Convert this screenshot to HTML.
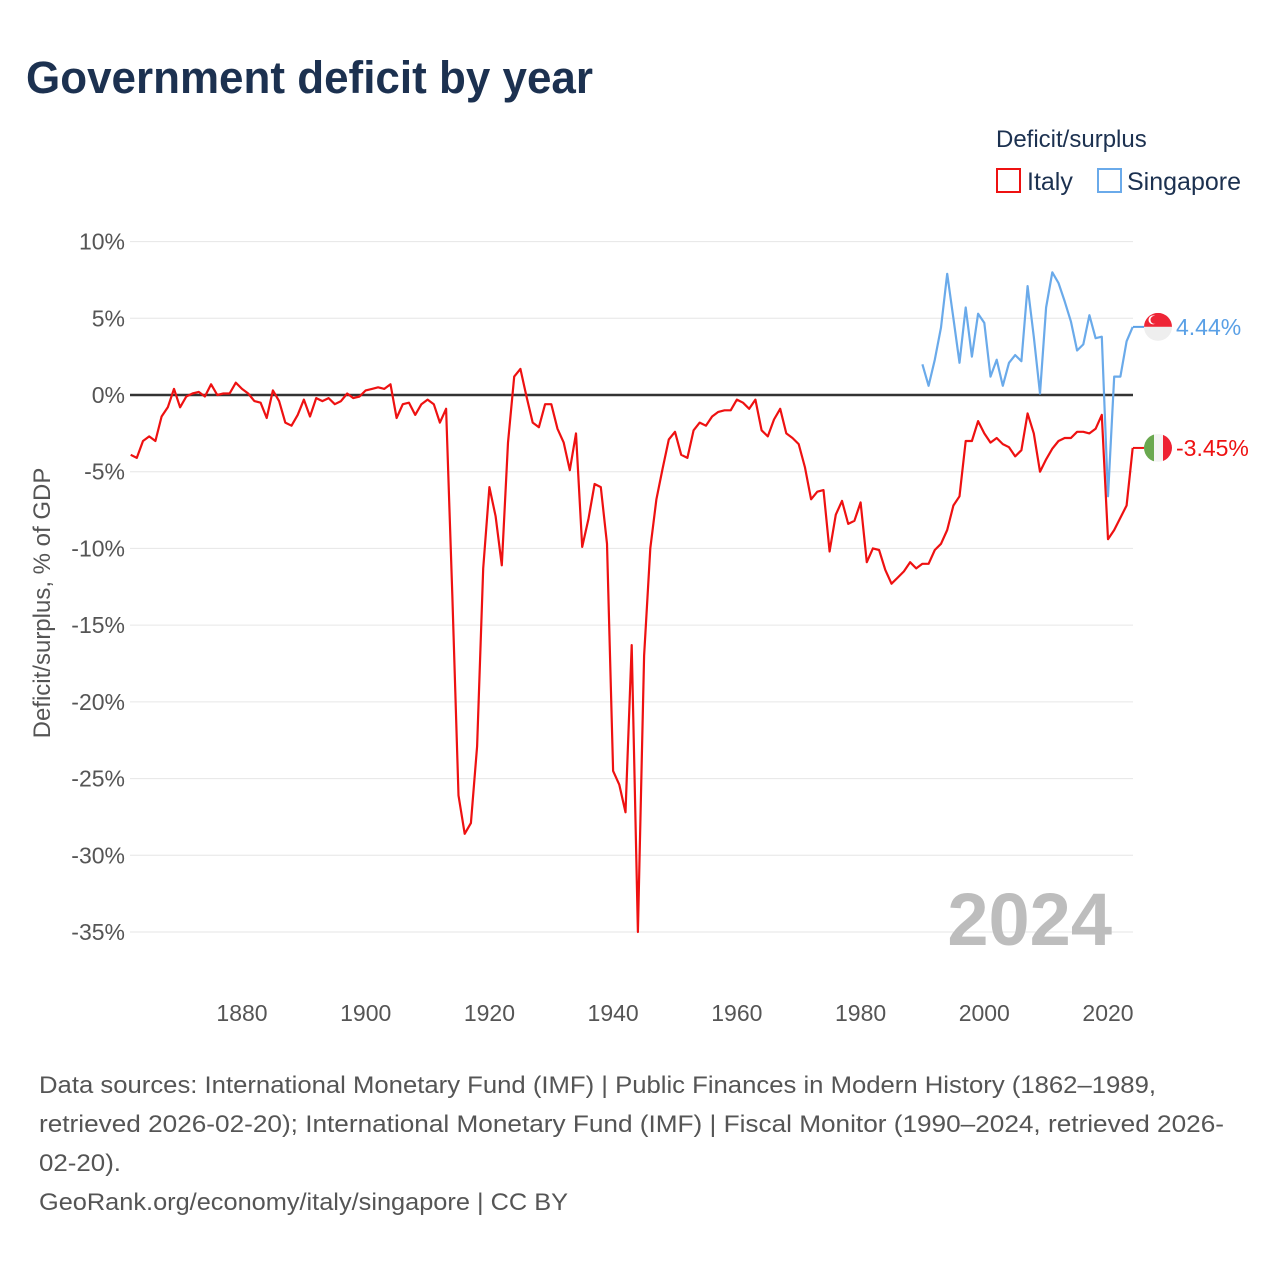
<!DOCTYPE html>
<html><head><meta charset="utf-8">
<style>
body{margin:0;background:#fff;font-family:"Liberation Sans",sans-serif;}
#wrap{position:relative;width:1280px;height:1280px;overflow:hidden;}
</style></head>
<body><div id="wrap">
<svg id="chart" width="1280" height="1280" xmlns="http://www.w3.org/2000/svg">
<text x="26" y="93" font-size="45" font-weight="bold" fill="#1c3150" textLength="567" lengthAdjust="spacingAndGlyphs" font-family="Liberation Sans, sans-serif">Government deficit by year</text>
<g>
<text x="996" y="147" font-size="24" fill="#1c3150">Deficit/surplus</text>
<g><rect x="997" y="169" width="23" height="23" fill="none" stroke="#ee1111" stroke-width="2"/><text x="1027" y="190" font-size="25" fill="#1c3150">Italy</text></g>
<g><rect x="1098" y="169" width="23" height="23" fill="none" stroke="#6aaaea" stroke-width="2"/><text x="1127" y="190" font-size="25" fill="#1c3150">Singapore</text></g>
</g>
<g id="grid"></g>
<g id="yticks"></g>
<g id="xticks"></g>
<text transform="translate(50,603) rotate(-90)" text-anchor="middle" font-size="24" fill="#555">Deficit/surplus, % of GDP</text>
<text x="1112" y="945" text-anchor="end" font-size="74" font-weight="bold" fill="#bdbdbd">2024</text>
<line id="zeroline" stroke="#333" stroke-width="2.5"/>
<g id="series"></g>
<g id="endlabels"></g>
<g font-size="24" fill="#555">
<text x="39" y="1093" textLength="1117" lengthAdjust="spacingAndGlyphs">Data sources: International Monetary Fund (IMF) | Public Finances in Modern History (1862–1989,</text>
<text x="39" y="1132" textLength="1185" lengthAdjust="spacingAndGlyphs">retrieved 2026-02-20); International Monetary Fund (IMF) | Fiscal Monitor (1990–2024, retrieved 2026-</text>
<text x="39" y="1171" textLength="82" lengthAdjust="spacingAndGlyphs">02-20).</text>
<text x="39" y="1210" textLength="529" lengthAdjust="spacingAndGlyphs">GeoRank.org/economy/italy/singapore | CC BY</text>
</g>
</svg>
</div>
<script>
const italyStart = 1862;
const italyValues = [-3.9,-4.1,-3.0,-2.7,-3.0,-1.4,-0.8,0.4,-0.8,-0.1,0.1,0.2,-0.1,0.7,0,0.1,0.1,0.8,0.4,0.1,-0.4,-0.5,-1.5,0.3,-0.4,-1.8,-2.0,-1.3,-0.3,-1.4,-0.2,-0.4,-0.2,-0.6,-0.4,0.1,-0.2,-0.1,0.3,0.4,0.5,0.4,0.7,-1.5,-0.6,-0.5,-1.3,-0.6,-0.3,-0.6,-1.8,-0.9,-13,-26.1,-28.6,-27.9,-22.9,-11.3,-6.0,-7.9,-11.1,-3.1,1.2,1.7,-0.1,-1.8,-2.1,-0.6,-0.6,-2.2,-3.1,-4.9,-2.5,-9.9,-8.1,-5.8,-6.0,-9.7,-24.5,-25.4,-27.2,-16.3,-35,-17.0,-10.0,-6.8,-4.8,-2.9,-2.4,-3.9,-4.1,-2.3,-1.8,-2.0,-1.4,-1.1,-1.0,-1.0,-0.3,-0.5,-0.9,-0.3,-2.3,-2.7,-1.6,-0.9,-2.5,-2.8,-3.2,-4.7,-6.8,-6.3,-6.2,-10.2,-7.8,-6.9,-8.4,-8.2,-7.0,-10.9,-10.0,-10.1,-11.4,-12.3,-11.9,-11.5,-10.9,-11.3,-11.0,-11.0,-10.1,-9.7,-8.8,-7.2,-6.6,-3.0,-3.0,-1.7,-2.5,-3.1,-2.8,-3.2,-3.4,-4.0,-3.6,-1.2,-2.5,-5.0,-4.2,-3.5,-3.0,-2.8,-2.8,-2.4,-2.4,-2.5,-2.2,-1.3,-9.4,-8.8,-8.0,-7.2,-3.45];
const singaporeStart = 1990;
const singaporeValues = [2.0,0.6,2.3,4.4,7.9,5.0,2.1,5.7,2.5,5.3,4.7,1.2,2.3,0.6,2.1,2.6,2.2,7.1,3.8,0.1,5.7,8.0,7.3,6.1,4.8,2.9,3.3,5.2,3.7,3.8,-6.6,1.2,1.2,3.5,4.44];
const yTicks = [10,5,0,-5,-10,-15,-20,-25,-30,-35];
const xTicks = [1880,1900,1920,1940,1960,1980,2000,2020];

const NS = "http://www.w3.org/2000/svg";
const xScale = yr => 242 + (yr - 1880) * (1108 - 242) / 140;
const yScale = v => 395 - v * (932 - 395) / 35;
const X0 = 130, X1 = 1133;

const grid = document.getElementById('grid');
const yt = document.getElementById('yticks');
yTicks.forEach(t => {
  const l = document.createElementNS(NS, 'line');
  
  
  l.setAttribute('x1', X0); l.setAttribute('x2', X1);
  l.setAttribute('y1', yScale(t)); l.setAttribute('y2', yScale(t));
  l.setAttribute('stroke', '#e6e6e6'); l.setAttribute('stroke-width', '1');
  grid.appendChild(l);
  const tx = document.createElementNS(NS, 'text');
  
  
  tx.setAttribute('x', 125); tx.setAttribute('y', yScale(t) + 8);
  tx.setAttribute('text-anchor', 'end'); tx.setAttribute('font-size', '23'); tx.setAttribute('fill', '#555');
  tx.textContent = t + '%';
  yt.appendChild(tx);
});
const xt = document.getElementById('xticks');
xTicks.forEach(t => {
  const tx = document.createElementNS(NS, 'text');
  
  
  tx.setAttribute('x', xScale(t)); tx.setAttribute('y', 1021);
  tx.setAttribute('text-anchor', 'middle'); tx.setAttribute('font-size', '23'); tx.setAttribute('fill', '#555');
  tx.textContent = t;
  xt.appendChild(tx);
});
const z = document.getElementById('zeroline');
z.setAttribute('x1', X0); z.setAttribute('x2', X1);
z.setAttribute('y1', yScale(0)); z.setAttribute('y2', yScale(0));

const series = document.getElementById('series');
function drawLine(start, vals, color, name) {
  const p = document.createElementNS(NS, 'polyline');
  
  
  p.setAttribute('points', vals.map((v, i) => xScale(start + i).toFixed(1) + ',' + yScale(v).toFixed(1)).join(' '));
  p.setAttribute('fill', 'none'); p.setAttribute('stroke', color);
  p.setAttribute('stroke-width', '2.2'); p.setAttribute('stroke-linejoin', 'round');
  series.appendChild(p);
}
drawLine(singaporeStart, singaporeValues, '#6aaaea', 'singapore-line');
drawLine(italyStart, italyValues, '#ee1111', 'italy-line');

const el = document.getElementById('endlabels');
function endLabel(vals, color, name, flag) {
  const v = vals[vals.length - 1];
  const y = yScale(v);
  const g = document.createElementNS(NS, 'g');
  
  
  const cx = 1158;
  let inner = '<line x1="' + X1 + '" x2="' + (cx - 14) + '" y1="' + y + '" y2="' + y + '" stroke="' + color + '" stroke-width="2"/>';
  inner += '<defs><clipPath id="c' + name + '"><circle cx="' + cx + '" cy="' + y + '" r="14"/></clipPath></defs>';
  if (flag === 'sg') {
    inner += '<g clip-path="url(#c' + name + ')"><rect x="' + (cx-14) + '" y="' + (y-14) + '" width="28" height="14" fill="#ee2536"/><rect x="' + (cx-14) + '" y="' + y + '" width="28" height="14" fill="#eee"/>' +
      '<circle cx="' + (cx-5) + '" cy="' + (y-7) + '" r="4.5" fill="#fff"/><circle cx="' + (cx-3.5) + '" cy="' + (y-7) + '" r="4" fill="#ee2536"/></g>';
  } else {
    inner += '<g clip-path="url(#c' + name + ')"><rect x="' + (cx-14) + '" y="' + (y-14) + '" width="10" height="28" fill="#6aa84f"/><rect x="' + (cx-4) + '" y="' + (y-14) + '" width="9" height="28" fill="#f4f4f4"/><rect x="' + (cx+5) + '" y="' + (y-14) + '" width="10" height="28" fill="#ee2233"/></g>';
  }
  inner += '<text x="1176" y="' + (y + 8) + '" font-size="23" fill="' + color + '">' + v.toFixed(2) + '%</text>';
  g.innerHTML = inner;
  el.appendChild(g);
}
endLabel(singaporeValues, '#5aa0e6', 'singapore-end-label', 'sg');
endLabel(italyValues, '#ee1111', 'italy-end-label', 'it');
</script>
</body></html>
